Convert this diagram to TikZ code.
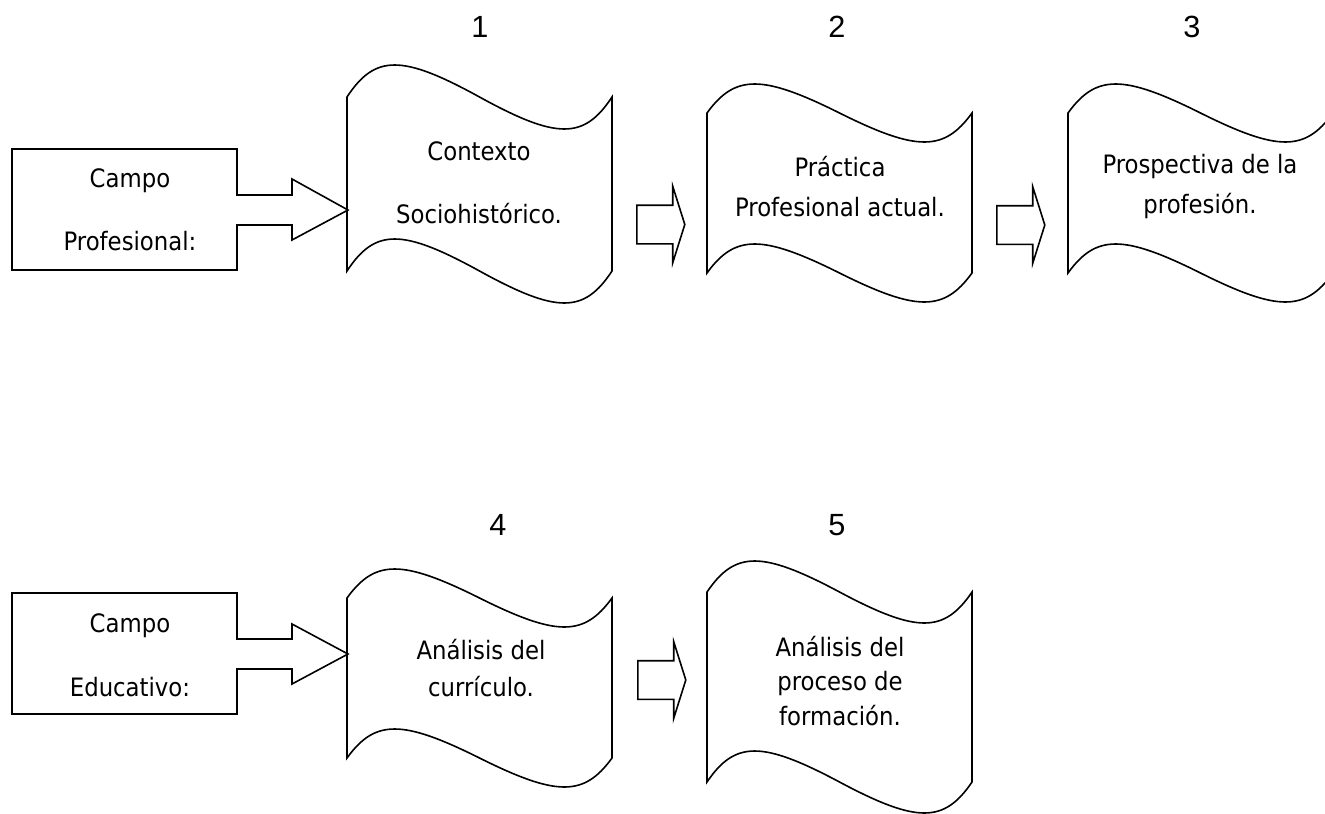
\documentclass[tikz,border=0pt]{standalone}
\usepackage{fontspec}
\setmainfont{DejaVu Sans Condensed}
\newfontfamily\arialfont{Liberation Sans}
\usetikzlibrary{shapes.arrows, calc, positioning}

\tikzset{%
linea/.style={line width=1.2pt, black, line join=miter},
texto/.style={align=center, inner sep=0pt, font=\fontsize{19pt}{30pt}\selectfont},
numero/.style={inner sep=0pt, font=\arialfont\fontsize{23pt}{27pt}\selectfont},
flecha/.style={
    single arrow, draw, linea, fill=white,
    minimum height=36pt,
    inner xsep=0pt, inner ysep=13.875pt,
    single arrow head extend=14.25pt,
    single arrow tip angle=145,
    anchor=tail
},
}

\begin{document}
\begin{tikzpicture}[x=0.75pt, y=-0.75pt]
\useasboundingbox (0,0) rectangle (1325,814);
\clip (0,0) rectangle (1325,814);

% cajas de campo con su flecha
\draw [linea] (12,149) -- (237,149) -- (237,195) -- (292,195) -- (292,179) -- (348,210)
    -- (292,240) -- (292,225) -- (237,225) -- (237,270) -- (12,270) -- cycle;
\draw [linea] (12,593) -- (237,593) -- (237,639) -- (292,639) -- (292,624) -- (348,654)
    -- (292,684) -- (292,669) -- (237,669) -- (237,714) -- (12,714) -- cycle;

% cintas: izquierda/arriba/abajo/onda
\foreach \l/\t/\b/\a in {347/97/271/32, 707/113/273/29, 1068/113/273/29, 347/598/758/29, 707/592/782/31}
  \draw [linea] (\l,\t) .. controls ({\l+28},{\t-1.333*\a}) and ({\l+55},{\t-1.333*\a}) .. ({\l+132.5},\t)
      .. controls ({\l+210},{\t+1.333*\a}) and ({\l+237},{\t+1.333*\a}) .. ({\l+265},\t)
      -- ({\l+265},\b) .. controls ({\l+237},{\b+1.333*\a}) and ({\l+210},{\b+1.333*\a}) .. ({\l+132.5},\b)
      .. controls ({\l+55},{\b-1.333*\a}) and ({\l+28},{\b-1.333*\a}) .. (\l,\b) -- cycle;

% textos
\node (cprof) [texto, font=\fontsize{19pt}{47.25pt}\selectfont] at (130,210) {Campo\\Profesional:};
\node (cedu) [texto, font=\fontsize{19pt}{48pt}\selectfont] at (130,655) {Campo\\Educativo:};
\node (ctx) [texto, font=\fontsize{19pt}{47.25pt}\selectfont] at (479,183) {Contexto\\Sociohistórico.};
\node (pra) [texto] at (840,187) {Práctica\\Profesional actual.};
\node (pro) [texto] at (1200,187) {Prospectiva de la\\profesión.};
\node (cur) [texto, font=\fontsize{19pt}{27.75pt}\selectfont] at (481,668) {Análisis del\\currículo.};
\node (form) [texto, font=\fontsize{19pt}{25.9pt}\selectfont] at (840,681) {Análisis del\\proceso de\\formación.};

% numeros
\foreach \i/\x/\y in {1/480/37, 2/837/37, 3/1192/37, 4/498/535, 5/837/535}
  \node (n\i) [numero, anchor=base] at (\x,\y) {\i};

% flechas entre cintas
\node (fl1) [flecha] at (636,224.5) {};
\node (fl2) [flecha] at (996,225) {};
\node (fl3) [flecha] at (637,680) {};
\end{tikzpicture}
\end{document}
